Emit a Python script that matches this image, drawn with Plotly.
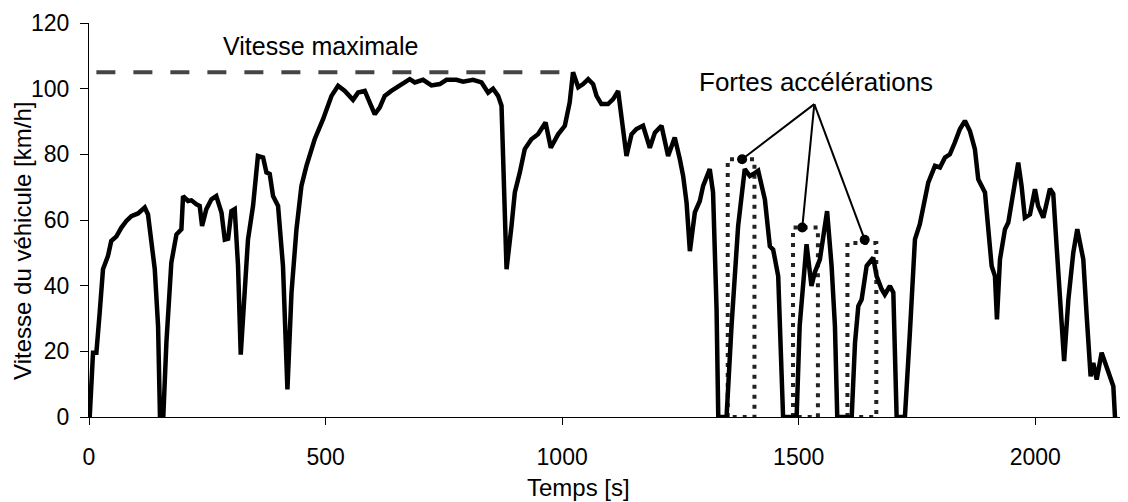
import plotly.graph_objects as go

# ---- data ----
temps = [0, 1.5, 8.5, 15.6, 22.6, 29.6, 40, 47, 58, 68.5, 79, 89.6, 103.6, 117.8, 124.7, 131.9, 139, 146, 150, 157,
         163.6, 174, 184.8, 195.3, 198.8, 209.3, 216.5, 227, 234, 239, 248, 258.8, 269, 280, 287, 294, 301, 308, 315, 320.7,
         329, 336, 346.7, 357, 368, 375, 382, 389, 399.6, 410, 419.4, 428, 438.5, 449, 459.6, 477, 494.7, 512.5, 526.5, 540.6,
         558, 568.7, 582.9, 593.5, 604, 614.6, 625, 639, 650, 664, 678, 688.6, 706, 723.9, 741.5, 755.6, 776.7, 790.7, 811.8, 829.6,
         843.6, 854, 864.7, 871.9, 875.3, 882.5, 893, 900, 910.6, 921, 935, 949, 965, 976, 991.5, 1005.7, 1016, 1023, 1034, 1044.4,
         1055, 1065.5, 1072.7, 1083, 1097, 1107.8, 1118.4, 1125.6, 1136, 1146.7, 1157, 1171, 1185.4, 1196, 1210, 1224, 1238, 1248.8, 1255.8, 1263,
         1270, 1280.5, 1291, 1298, 1312, 1319, 1326.4, 1330, 1347.5, 1358, 1372, 1386, 1396.8, 1404, 1414.4, 1428.5, 1439, 1446, 1456.7, 1467,
         1495.6, 1502, 1516.6, 1527, 1534, 1544.8, 1560, 1569.5, 1576.6, 1581.5, 1612, 1619, 1626, 1633, 1643.6, 1657.5, 1664.7, 1675.3, 1682, 1692.8,
         1700, 1707, 1724.5, 1735, 1745.7, 1756, 1766.8, 1773.8, 1788, 1798.5, 1809, 1819.5, 1830, 1840.8, 1851.3, 1861.9, 1872.4, 1879.5, 1893.7, 1900.7,
         1907.8, 1914.8, 1919, 1925.4, 1936, 1943, 1953.5, 1964, 1971, 1978, 1988.8, 1999.4, 2006, 2017, 2031, 2038, 2045.6, 2052.6, 2061, 2070,
         2080.3, 2088.8, 2101.5, 2108.7, 2117, 2122.6, 2129.8, 2140.3, 2147.4, 2154.4, 2161.5, 2165, 2168.5]
vitesse = [0, 0, 19.6, 19.6, 31.8, 45, 49, 53.6, 55, 57.7, 59.7, 61.2, 62, 63.8, 61.7, 52, 45, 27.7, 0, 0,
           22.7, 47, 55.6, 57.2, 67.3, 65.8, 66, 64.8, 64.3, 58.2, 63.3, 66.3, 67.3, 62.3, 54, 54.3, 62.7, 63.3, 46, 19,
           37.9, 54, 64.3, 79.5, 79, 74.5, 74, 67.3, 64.3, 46, 8.4, 37.9, 57.2, 70.4, 76.5, 84.6, 90.7, 97.8, 100.9, 99.3,
           96.6, 98.8, 99.3, 95.8, 92.2, 94.3, 97.8, 99.3, 100.4, 101.4, 102.9, 101.9, 102.7, 101, 101.4, 102.7, 102.7, 102.1, 102.7, 101.9,
           98.8, 100, 97.8, 94.8, 78.5, 45, 58.2, 68.4, 74.5, 81.6, 84.6, 86.1, 89.7, 82, 86.1, 88.7, 95.8, 105, 100.4, 101.4,
           102.9, 101.4, 97.8, 95.3, 95.3, 96.8, 99.3, 91.7, 79.5, 86.1, 87.7, 88.7, 82, 86.6, 88.7, 79.5, 85.1, 78.5, 73.4, 65.3,
           50.5, 62.3, 65.8, 70.4, 75.5, 68.4, 32.8, 0, 0, 27.7, 58.2, 75.5, 73.4, 74, 75, 66.3, 52, 51, 42.9, 0,
           0, 27.7, 52.6, 39.9, 44, 48, 62.7, 46, 27.7, 0, 0, 22.6, 33.8, 35.8, 46, 48.5, 42.9, 38.9, 37.3, 39.9,
           37.9, 0, 0, 25.7, 54.1, 58.7, 66.3, 71.4, 76.5, 76, 79, 80, 83.6, 87.7, 90.2, 87.1, 81.6, 72.4, 68.4, 56.2,
           46, 42.9, 29.7, 48, 57.2, 59.2, 68.4, 77.5, 70.4, 60.7, 61.7, 69.4, 64.3, 60.7, 69.5, 68, 51, 35.8, 17, 35.8,
           50, 57.2, 48, 30.7, 12.4, 16.5, 11.4, 19.6, 16.5, 13.5, 11.4, 9.4, 0]

# Maximum speed line
vmax_t = [15.6, 1010]
vmax_v = [105, 105]

# Strong accelerations (dotted rectangles): start, end, top speed
acc_debut = [1350, 1488, 1603]
acc_fin = [1406.5, 1540.6, 1664]
acc_haut = [78.5, 57.7, 53]

# Annotation markers and the common apex
marq_t = [1380.4, 1507.5, 1639.5]
marq_v = [78.5, 57.7, 54]
apex_t, apex_v = 1533, 95.3

x_ticks = [0, 500, 1000, 1500, 2000]
y_ticks = [0, 20, 40, 60, 80, 100, 120]

FONT = "Liberation Sans, Arial, sans-serif"

fig = go.Figure()

# dotted rectangles
for a, b, h in zip(acc_debut, acc_fin, acc_haut):
    fig.add_trace(go.Scatter(x=[a, a, b, b, a], y=[0, h, h, 0, 0], mode="lines",
                             line=dict(color="#222222", width=4, dash="4px,6px"),
                             showlegend=False, hoverinfo="skip"))

# main speed trace
fig.add_trace(go.Scatter(x=temps, y=vitesse, mode="lines",
                         line=dict(color="black", width=4.5), showlegend=False))

# max speed dashed
fig.add_trace(go.Scatter(x=vmax_t, y=vmax_v, mode="lines",
                         line=dict(color="#444444", width=4, dash="19px,18px"),
                         showlegend=False, hoverinfo="skip"))

# leader lines
for mt, mv in zip(marq_t, marq_v):
    fig.add_trace(go.Scatter(x=[mt, apex_t], y=[mv, apex_v], mode="lines",
                             line=dict(color="black", width=2), showlegend=False, hoverinfo="skip"))
fig.add_trace(go.Scatter(x=marq_t, y=marq_v, mode="markers",
                         marker=dict(color="black", size=10), showlegend=False, hoverinfo="skip"))

fig.add_annotation(x=489, y=113, xref="x", yref="y", text="Vitesse maximale", showarrow=False,
                   xanchor="center", yanchor="middle",
                   font=dict(family=FONT, size=25, color="black"))
fig.add_annotation(x=1537, y=102, xref="x", yref="y", text="Fortes accélérations", showarrow=False,
                   xanchor="center", yanchor="middle",
                   font=dict(family=FONT, size=26, color="black"))

fig.add_annotation(x=-0.0635, y=0.447, xref="paper", yref="paper", text="Vitesse du véhicule [km/h]",
                   textangle=-90, showarrow=False, xanchor="center", yanchor="middle",
                   font=dict(family=FONT, size=24, color="black"))
fig.add_annotation(x=0.4716, y=-0.178, xref="paper", yref="paper", text="Temps [s]",
                   showarrow=False, xanchor="center", yanchor="middle",
                   font=dict(family=FONT, size=24, color="black"))

# the page body adds an 8px margin, so the figure is sized to fill the rest
fig.update_layout(
    width=1120, height=494,
    margin=dict(l=81, r=0, t=15, b=85),
    plot_bgcolor="white", paper_bgcolor="white",
    font=dict(family=FONT, color="black"),
    xaxis=dict(range=[0, 2196], tickvals=x_ticks, showgrid=False, zeroline=False,
               showline=True, linecolor="black", linewidth=1, ticks="outside", ticklen=7,
               tickcolor="black", tickfont=dict(size=23), ticklabelstandoff=12),
    yaxis=dict(range=[0, 120], tickvals=y_ticks, showgrid=False, zeroline=False,
               showline=True, linecolor="black", linewidth=1, ticks="outside", ticklen=8,
               tickcolor="black", tickfont=dict(size=23), ticklabelstandoff=6),
)

fig.write_html("out.html")
